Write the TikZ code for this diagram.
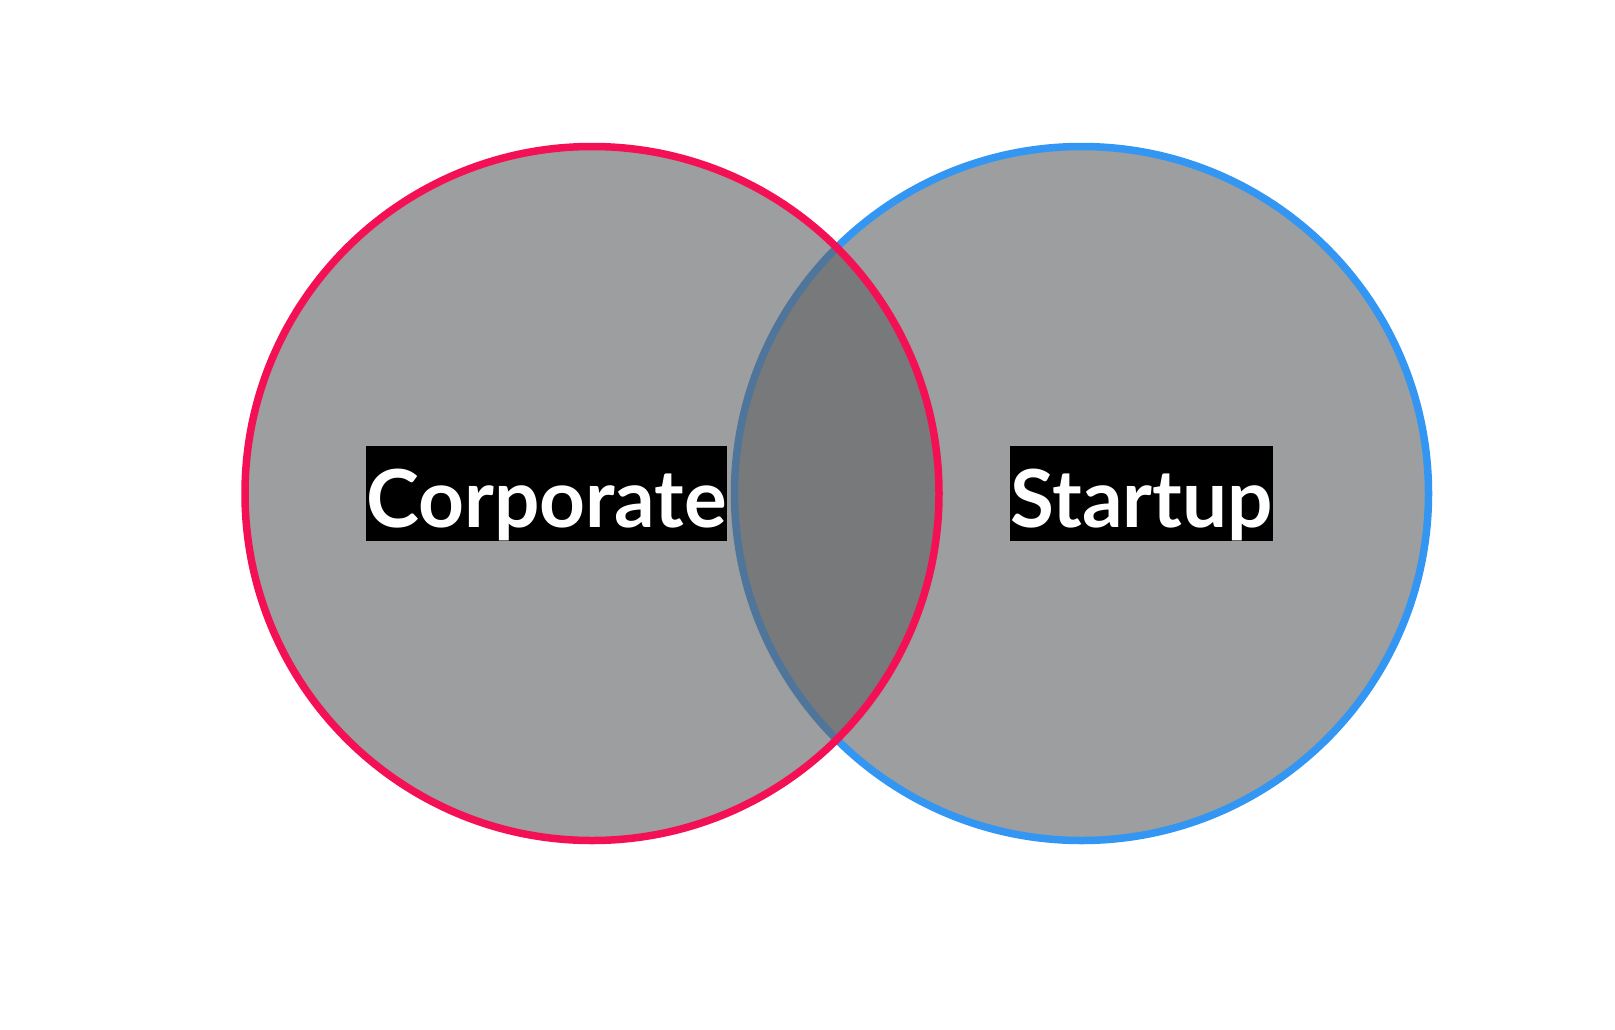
\documentclass[tikz,border=0pt]{standalone}
\usepackage{fontspec}
\setmainfont{Lato}
\usetikzlibrary{positioning}

\definecolor{ringred}{RGB}{244,16,84}
\definecolor{ringblue}{RGB}{51,150,243}
\definecolor{discgrey}{RGB}{97,98,100}

\begin{document}
\begin{tikzpicture}[
  x=1pt, y=-1pt,
  disc/.style={circle, minimum size=694pt, inner sep=0pt, line width=7.5pt,
    fill=discgrey, fill opacity=0.62},
  tag/.style={fill=black, text=white, inner sep=0pt, text height=81pt, text depth=14pt,
    font=\fontsize{80}{90}\selectfont\bfseries}
]
  \useasboundingbox (0,0) rectangle (1615,1029);

  \node[disc, draw=ringblue] (S) at (1081.5,493.5) {};
  \node[disc, draw=ringred] (C) at (592,493.5) {};

  \node[tag, minimum width=359pt] (corp) at (546.5,493.5) {Corporate};
  \node[tag, minimum width=263pt] (start) at (1141.5,493.5) {Startup};

\end{tikzpicture}
\end{document}
